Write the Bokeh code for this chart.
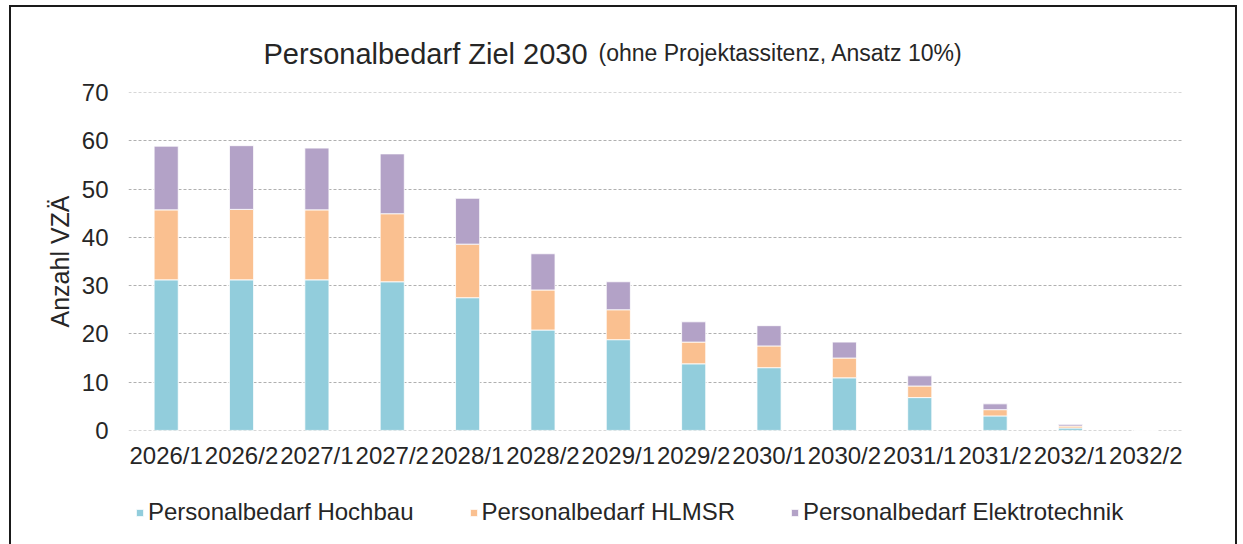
from bokeh.plotting import figure
from bokeh.layouts import column
from bokeh.models import FactorRange, Range1d, Label, Legend, LegendItem, FixedTicker, ColumnDataSource
from bokeh.embed import file_html
from bokeh.resources import INLINE

periods = ["2026/1", "2026/2", "2027/1", "2027/2", "2028/1", "2028/2", "2029/1",
           "2029/2", "2030/1", "2030/2", "2031/1", "2031/2", "2032/1", "2032/2"]
hochbau = [31.2, 31.2, 31.2, 30.8, 27.5, 20.8, 18.8, 13.8, 13.0, 10.9, 6.8, 3.0, 0.5, 0.0]
hlmsr = [14.5, 14.6, 14.5, 14.1, 11.1, 8.3, 6.2, 4.5, 4.5, 4.1, 2.4, 1.3, 0.4, 0.0]
elektro = [13.2, 13.2, 12.8, 12.4, 9.5, 7.5, 5.8, 4.2, 4.2, 3.3, 2.1, 1.2, 0.35, 0.0]
series_names = ["Personalbedarf Hochbau", "Personalbedarf HLMSR", "Personalbedarf Elektrotechnik"]
series_colors = ["#92CDDC", "#FAC090", "#B3A2C7"]
y_ticks = [0, 10, 20, 30, 40, 50, 60, 70]
title_main = "Personalbedarf Ziel 2030"
title_sub = "(ohne Projektassitenz, Ansatz 10%)"
y_label = "Anzahl VZÄ"

FONT = "Liberation Sans"
TXT = "#262626"
BORDER = "#1a1a1a"

source = ColumnDataSource(dict(period=periods, hochbau=hochbau, hlmsr=hlmsr, elektro=elektro))
stack_cols = ["hochbau", "hlmsr", "elektro"]

# ---- main chart ----
p = figure(x_range=FactorRange(factors=periods, range_padding=0),
           y_range=Range1d(-0.02, 70.02),
           width=1237, height=490, output_backend="svg", toolbar_location=None,
           min_border_left=128, min_border_right=54, min_border_top=92, min_border_bottom=60)

p.border_fill_color = None
p.background_fill_color = "white"
p.outline_line_color = None
p.styles = {"box-shadow": f"inset 9px 5px 0 0 white, inset 11px 7px 0 0 {BORDER}, inset -2px 0 0 0 {BORDER}",
            "background-color": "white"}

p.vbar_stack(stack_cols, x="period", width=0.32, fill_color=series_colors,
             line_color="white", line_width=0.8, source=source)

p.xgrid.visible = False
p.ygrid.grid_line_color = "#B0B0B0"
p.ygrid.grid_line_dash = "3 2"
p.ygrid.grid_line_width = 1.2
p.ygrid.level = "underlay"

p.yaxis.ticker = FixedTicker(ticks=y_ticks)
for ax in (p.xaxis[0], p.yaxis[0]):
    ax.axis_line_color = None
    ax.major_tick_line_color = None
    ax.minor_tick_line_color = None
    ax.major_tick_out = 0
    ax.major_tick_in = 0
    ax.major_label_text_font = FONT
    ax.major_label_text_font_size = "24px"
    ax.major_label_text_color = TXT

p.yaxis.major_label_standoff = 20
p.xaxis.major_label_standoff = 11
p.yaxis.axis_label = y_label
p.yaxis.axis_label_text_font = FONT
p.yaxis.axis_label_text_font_size = "25px"
p.yaxis.axis_label_text_font_style = "normal"
p.yaxis.axis_label_text_color = TXT
p.yaxis.axis_label_standoff = 5

p.add_layout(Label(x=135, y=39, x_units="screen", y_units="screen", text=title_main,
                   text_font=FONT, text_font_size="29px", text_color=TXT,
                   text_baseline="alphabetic"), "above")
p.add_layout(Label(x=470, y=8, x_units="screen", y_units="screen", text=title_sub,
                   text_font=FONT, text_font_size="23px", text_color=TXT,
                   text_baseline="alphabetic"), "above")

# ---- legend strip (same series, bars fall outside its visible range) ----
p2 = figure(x_range=FactorRange(factors=periods, range_padding=0),
            y_range=Range1d(1000, 1001),
            width=1237, height=54, output_backend="svg", toolbar_location=None,
            x_axis_location=None, y_axis_location=None, min_border=0)
p2.border_fill_color = None
p2.background_fill_color = None
p2.outline_line_color = None
p2.grid.visible = False
p2.styles = {"box-shadow": f"inset 9px 0 0 0 white, inset 11px 0 0 0 {BORDER}, inset -2px 0 0 0 {BORDER}",
             "background-color": "white"}

leg_renderers = p2.vbar_stack(stack_cols, x="period", width=0.32, fill_color=series_colors,
                              line_color="white", line_width=0.8, source=source)

legend = Legend(items=[LegendItem(label=n, renderers=[r]) for n, r in zip(series_names, leg_renderers)],
                orientation="horizontal", location=(7, 18),
                glyph_width=9, glyph_height=9, label_standoff=4, spacing=55,
                padding=0, margin=0, border_line_color=None, background_fill_alpha=0,
                label_text_font=FONT, label_text_font_size="24px", label_text_color=TXT)
p2.add_layout(legend)

layout = column(p, p2, spacing=0)

open("out.html", "w").write(file_html(layout, INLINE))
